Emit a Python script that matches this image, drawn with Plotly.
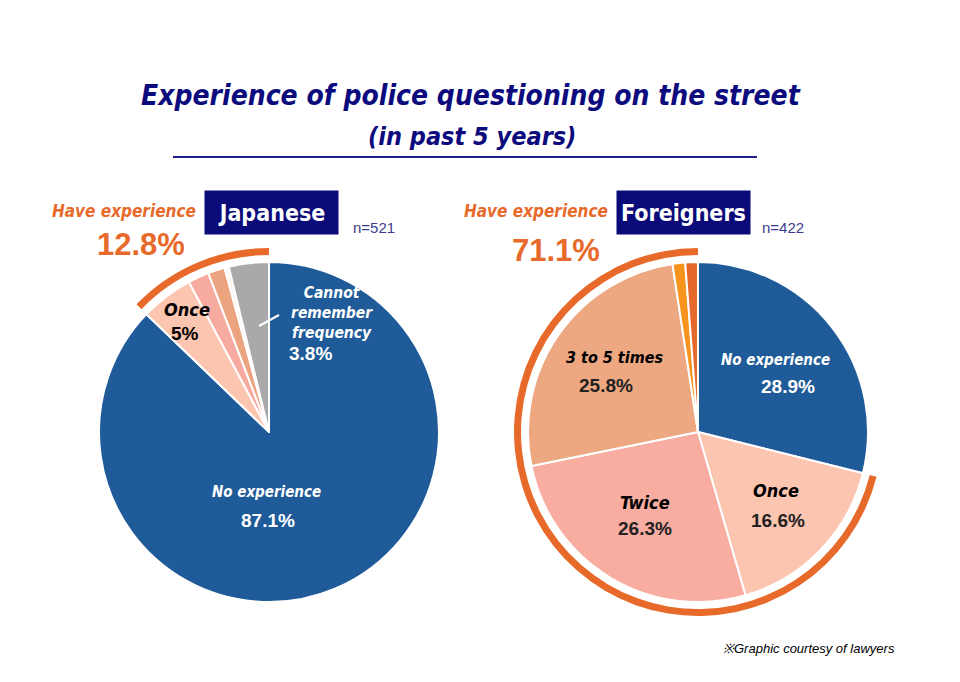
import plotly.graph_objects as go

W, H = 960, 682

# ---- data ----
jp_labels = ["No experience", "Once", "Twice", "3 to 5 times", "6 times or more", "Cannot remember frequency"]
jp_values = [87.1, 5.0, 2.0, 1.6, 0.4, 3.8]
jp_colors = ["#1f5b98", "#fcc5b0", "#f6aaa0", "#eca37f", "#fdf3ee", "#a9a9a9"]

fr_labels = ["No experience", "Once", "Twice", "3 to 5 times", "6 times or more", "Cannot remember frequency"]
fr_values = [28.9, 16.6, 26.3, 25.8, 1.2, 1.2]
fr_colors = ["#1f5b98", "#fcc5b0", "#f9aca0", "#eda781", "#f7941d", "#e5692b"]

jp_have = 12.8
fr_have = 71.1

NAVY = "#0b0b7e"
ORANGE = "#e86a2b"
COND = "DejaVu Sans Condensed, Liberation Sans Narrow, Arial Narrow, sans-serif"
SANS = "Liberation Sans, Arial, sans-serif"


def dom(cx, cy, r):
    return dict(x=[(cx - r) / W, (cx + r) / W], y=[(H - cy - r) / H, (H - cy + r) / H])


def px(x, y):
    return x / W, (H - y) / H


fig = go.Figure()

# pies
for vals, labs, cols, cx in [(jp_values, jp_labels, jp_colors, 269), (fr_values, fr_labels, fr_colors, 698)]:
    fig.add_trace(go.Pie(
        values=vals, labels=labs, sort=False, direction="clockwise", rotation=0,
        marker=dict(colors=cols, line=dict(color="white", width=2)),
        textinfo="none", hoverinfo="label+percent", domain=dom(cx, 432, 170),
        showlegend=False,
    ))

# orange "have experience" arcs
for have, cx in [(jp_have, 269), (fr_have, 698)]:
    fig.add_trace(go.Pie(
        values=[100 - have, have], labels=["No experience", "Have experience"],
        sort=False, direction="clockwise", rotation=0, hole=177 / 184,
        marker=dict(colors=["rgba(0,0,0,0)", ORANGE], line=dict(width=0)),
        textinfo="none", hoverinfo="skip", domain=dom(cx, 432, 184),
        showlegend=False,
    ))

ann = []


def add(x, y, text, size, color, family=COND, bold=True, italic=True, **kw):
    xx, yy = px(x, y)
    t = text
    if bold:
        t = "<b>" + t + "</b>"
    if italic:
        t = "<i>" + t + "</i>"
    d = dict(x=xx, y=yy, xref="paper", yref="paper", text=t, showarrow=False,
             xanchor="center", yanchor="middle",
             font=dict(size=size, color=color, family=family))
    d.update(kw)
    ann.append(d)


# title
add(471, 96, "Experience of police questioning on the street", 28, NAVY)
add(472, 136, "(in past 5 years)", 25, NAVY)

# headers
add(124, 211, "Have experience", 17, ORANGE)
add(141, 244, "12.8%", 31, ORANGE, family=SANS, italic=False)
add(536, 211, "Have experience", 17, ORANGE)
add(556, 250, "71.1%", 31, ORANGE, family=SANS, italic=False)

for cx, txt in [(271.5, "Japanese"), (683.5, "Foreigners")]:
    xx, yy = px(cx, 212.5)
    ann.append(dict(x=xx, y=yy, xref="paper", yref="paper", text="<b>" + txt + "</b>",
                    xanchor="center", yanchor="middle",
                    showarrow=False, width=131, height=41, bgcolor="#0a0a78",
                    font=dict(size=23, color="white", family=COND)))

add(374, 227, "n=521", 15, "#3b3b8f", family=SANS, bold=False, italic=False)
add(783, 227, "n=422", 15, "#3b3b8f", family=SANS, bold=False, italic=False)

# Japanese labels
add(266, 492, "No experience", 15, "white")
add(268, 520, "87.1%", 19, "white", family=SANS, italic=False)
add(187, 309, "Once", 18, "black")
add(185, 333, "5%", 19, "black", family=SANS, italic=False)
add(332, 313, "Cannot<br>remember<br>frequency", 15.5, "white")
add(310, 353, "3.8%", 19, "white", family=SANS, italic=False)

# Foreigner labels
add(775, 360, "No experience", 15, "white")
add(788, 387, "28.9%", 19, "white", family=SANS, italic=False)
add(776, 490, "Once", 18, "black")
add(778, 520, "16.6%", 19, "#222", family=SANS, italic=False)
add(645, 502, "Twice", 18, "black")
add(645, 528, "26.3%", 19, "#222", family=SANS, italic=False)
add(614, 357, "3 to 5 times", 16, "black")
add(606, 386, "25.8%", 19, "#222", family=SANS, italic=False)

add(809, 648, "※Graphic courtesy of lawyers", 13, "black", family=SANS, bold=False)

shapes = []
x0, y0 = px(173, 157)
x1, y1 = px(757, 157)
shapes.append(dict(type="line", xref="paper", yref="paper", x0=x0, y0=y0, x1=x1, y1=y1,
                   line=dict(color="#1c1c8a", width=2)))
x0, y0 = px(259, 326)
x1, y1 = px(279, 315)
shapes.append(dict(type="line", xref="paper", yref="paper", x0=x0, y0=y0, x1=x1, y1=y1,
                   line=dict(color="white", width=2)))

fig.update_layout(width=W, height=H, margin=dict(l=0, r=0, t=0, b=0),
                  paper_bgcolor="white", plot_bgcolor="white",
                  annotations=ann, shapes=shapes)

fig.write_html("out.html")
